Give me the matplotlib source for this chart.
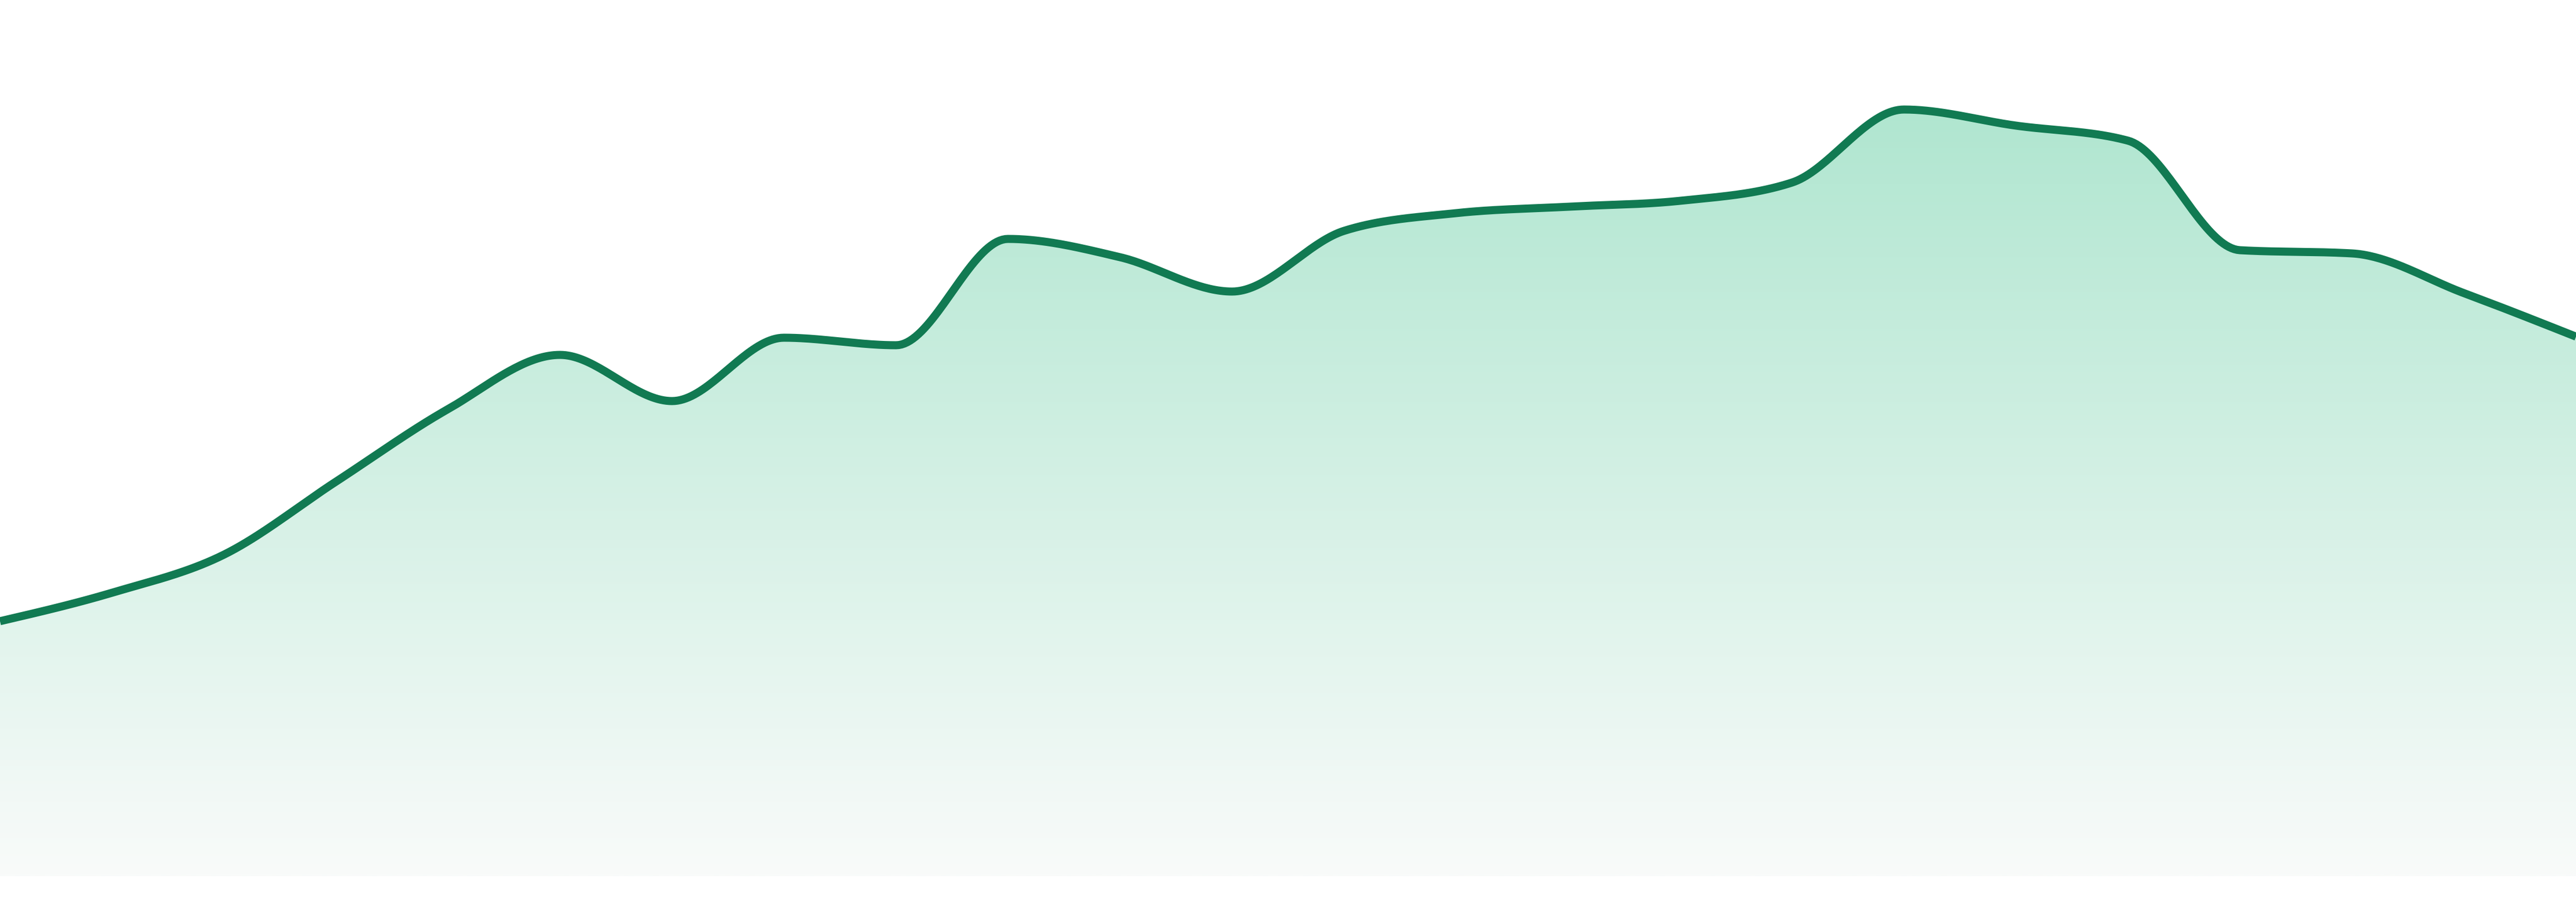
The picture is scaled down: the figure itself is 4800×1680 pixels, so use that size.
import numpy as np
import matplotlib
matplotlib.use("Agg")
import matplotlib.pyplot as plt

# values, one per evenly spaced step
values = [47.5, 52.8, 59.9, 73.5, 87.0, 97.1, 88.5, 100.3, 98.9, 118.7,
          115.3, 108.9, 120.2, 123.5, 124.7, 125.8, 129.2, 142.8, 139.8,
          137.0, 116.6, 116.0, 108.6, 100.5]
steps = list(range(len(values)))

line_color = "#117a52"
fill_top = np.array([176, 230, 208]) / 255
fill_bottom = np.array([249, 251, 250]) / 255


def monotone_curve(x, y, n=40):
    # monotone cubic (same rule as d3.curveMonotoneX)
    x = np.asarray(x, float)
    y = np.asarray(y, float)
    h = np.diff(x)
    s = np.diff(y) / h
    t = np.zeros_like(y)
    for i in range(1, len(y) - 1):
        p = (s[i - 1] * h[i] + s[i] * h[i - 1]) / (h[i - 1] + h[i])
        t[i] = (np.sign(s[i - 1]) + np.sign(s[i])) * min(abs(s[i - 1]), abs(s[i]), 0.5 * abs(p))
    t[0] = (3 * s[0] - t[1]) / 2
    t[-1] = (3 * s[-1] - t[-2]) / 2
    xs, ys = [], []
    for i in range(len(h)):
        u = np.linspace(0, 1, n, endpoint=False)
        h00 = 2 * u**3 - 3 * u**2 + 1
        h10 = u**3 - 2 * u**2 + u
        h01 = -2 * u**3 + 3 * u**2
        h11 = u**3 - u**2
        xs.append(x[i] + u * h[i])
        ys.append(h00 * y[i] + h10 * h[i] * t[i] + h01 * y[i + 1] + h11 * h[i] * t[i + 1])
    xs.append([x[-1]])
    ys.append([y[-1]])
    return np.concatenate(xs), np.concatenate(ys)


fig = plt.figure(figsize=(16, 5.6), dpi=300)
ax = fig.add_axes([0, 0, 1, 1])
ax.set_xlim(0, len(values) - 1)
ax.set_ylim(-4.8, 163.2)
ax.axis("off")

cx, cy = monotone_curve(steps, values)
top = max(values)

# gradient fill under the curve
frac = np.linspace(0, 1, 256)[:, None]
grad = fill_top[None, :] * (1 - frac) + fill_bottom[None, :] * frac
grad = np.repeat(grad[:, None, :], 2, axis=1)
poly = ax.fill_between(cx, cy, 0, color="none", lw=0)
img = ax.imshow(grad, extent=[0, len(values) - 1, 0, top], aspect="auto",
                origin="upper", interpolation="bilinear", zorder=1)
img.set_clip_path(poly.get_paths()[0], transform=ax.transData)

ax.plot(cx, cy, color=line_color, lw=3.6, solid_capstyle="butt", zorder=3)

fig.savefig("out.png", dpi=300, facecolor="white")
